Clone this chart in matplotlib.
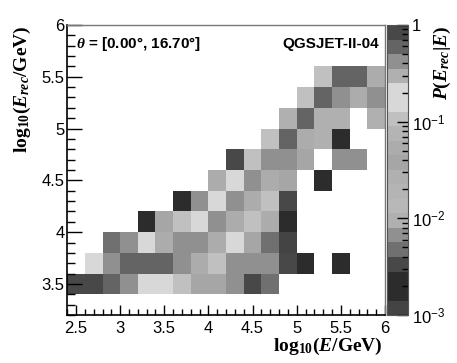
import numpy as np
import matplotlib
matplotlib.use("Agg")
import matplotlib.pyplot as plt
from matplotlib.colors import ListedColormap, LogNorm
from matplotlib.ticker import FixedLocator, NullFormatter

plt.rcParams['font.family'] = ['Liberation Sans', 'DejaVu Sans']
plt.rcParams['mathtext.fontset'] = 'custom'
plt.rcParams['mathtext.rm'] = 'Liberation Serif:bold'
plt.rcParams['mathtext.it'] = 'Liberation Serif:italic:bold'
plt.rcParams['mathtext.bf'] = 'Liberation Serif:bold'
plt.rcParams['mathtext.sf'] = 'Liberation Sans'

# ---- data ----
x_edges = [2.4, 2.6, 2.8, 3.0, 3.2, 3.4, 3.6, 3.8, 4.0, 4.2, 4.4, 4.6, 4.8, 5.0,
           5.2, 5.4, 5.6, 5.8, 6.0]
y_edges = [3.4, 3.6, 3.8, 4.0, 4.2, 4.4, 4.6, 4.8, 5.0, 5.2, 5.4, 5.6]
n = np.nan
# rows: log10(E_rec) bins from 3.4 upward; columns: log10(E) bins from 2.4
prob = [
    [0.85, 0.78, 0.55, 0.0067, 0.15, 0.16, 0.10, 0.038, 0.036, 0.0067, 0.0034, 0.0048, n, n, n, n, n, n],
    [n, 0.20, 0.40, 0.60, 0.60, 0.58, 0.40, 0.055, 0.10, 0.0066, 0.0062, 0.0063, 0.0034, 0.0017, n, 0.0017, n, n],
    [n, n, 0.0050, 0.38, 0.16, 0.055, 0.40, 0.40, 0.055, 0.18, 0.036, 0.0047, 0.0012, n, n, n, n, n],
    [n, n, n, n, 0.0017, 0.038, 0.10, 0.20, 0.40, 0.055, 0.10, 0.055, 0.0017, n, n, n, n, n],
    [n, n, n, n, n, n, 0.0017, 0.37, 0.20, 0.40, 0.055, 0.10, 0.0034, n, n, n, n, n],
    [n, n, n, n, n, n, n, n, 0.055, 0.20, 0.40, 0.055, 0.038, n, 0.0017, n, n, n],
    [n, n, n, n, n, n, n, n, n, 0.0034, 0.10, 0.40, 0.0067, 0.038, n, 0.0067, 0.0068, n],
    [n, n, n, n, n, n, n, n, n, n, n, 0.10, 0.60, 0.055, 0.027, 0.0017, n, n],
    [n, n, n, n, n, n, n, n, n, n, n, n, 0.30, 0.60, 0.30, 0.027, n, 0.30],
    [n, n, n, n, n, n, n, n, n, n, n, n, n, 0.10, 0.60, 0.40, 0.055, 0.40],
    [n, n, n, n, n, n, n, n, n, n, n, n, n, n, 0.10, 0.60, 0.60, 0.055],
]
x_ticks = [2.5, 3.0, 3.5, 4.0, 4.5, 5.0, 5.5, 6.0]
x_ticklabels = ['2.5', '3', '3.5', '4', '4.5', '5', '5.5', '6']
y_ticks = [3.5, 4.0, 4.5, 5.0, 5.5, 6.0]
y_ticklabels = ['3.5', '4', '4.5', '5', '5.5', '6']
cb_ticks = [1e-3, 1e-2, 1e-1, 1.0]
cb_ticklabels = [r'$\mathsf{10^{-3}}$', r'$\mathsf{10^{-2}}$', r'$\mathsf{10^{-1}}$', '1']

# grayscale palette (20 bands, bottom -> top)
band_grays = [0x44, 0x2c, 0x2c, 0x48, 0x70, 0x90, 0xb0, 0xb8, 0xb4, 0xb0,
              0xa6, 0xac, 0xb4, 0xc0, 0xd8, 0xd8, 0xb0, 0x90, 0x64, 0x48]
cmap = ListedColormap([(g / 255, g / 255, g / 255) for g in band_grays])
norm = LogNorm(vmin=1e-3, vmax=1.0)

W, H = 457, 363
fig = plt.figure(figsize=(W / 100, H / 100), dpi=100)
ax = fig.add_axes([67.2 / W, 1 - 315 / H, (385 - 67.2) / W, 290 / H])
cax = fig.add_axes([386.7 / W, 1 - 315 / H, 21.3 / W, 290 / H])

Z = np.ma.masked_invalid(np.array(prob, dtype=float))
mesh = ax.pcolormesh(x_edges, y_edges, Z, cmap=cmap, norm=norm,
                     edgecolors='none', antialiased=False)
ax.set_xlim(2.4, 6.0)
ax.set_ylim(3.2, 6.0)

ax.xaxis.set_major_locator(FixedLocator(x_ticks))
ax.set_xticklabels(x_ticklabels)
ax.yaxis.set_major_locator(FixedLocator(y_ticks))
ax.set_yticklabels(y_ticklabels)
ax.xaxis.set_minor_locator(FixedLocator(np.arange(2.4, 6.001, 0.1)))
ax.yaxis.set_minor_locator(FixedLocator(np.arange(3.2, 6.001, 0.1)))
ax.tick_params(axis='x', which='major', direction='in', length=7, width=1,
               labelsize=12, pad=4, top=False)
ax.tick_params(axis='x', which='minor', direction='in', length=4, width=1, top=False)
ax.tick_params(axis='y', which='major', direction='in', length=11, width=1,
               labelsize=12, pad=2, right=False)
ax.tick_params(axis='y', which='minor', direction='in', length=6, width=1, right=False)
for s in ['left', 'bottom']:
    ax.spines[s].set_linewidth(1.2)
    ax.spines[s].set_color('black')
for s in ['top', 'right']:
    ax.spines[s].set_linewidth(1.0)
    ax.spines[s].set_color('#777777')

ax.text(0.028, 0.934, r'$\theta$ = [0.00°, 16.70°]', transform=ax.transAxes,
        fontsize=11, fontweight='bold', ha='left', va='center')
ax.text(0.98, 0.934, 'QGSJET-II-04', transform=ax.transAxes,
        fontsize=11, fontweight='bold', ha='right', va='center')

cb = fig.colorbar(mesh, cax=cax)
cb.outline.set_linewidth(0.8)
cb.outline.set_edgecolor('#555555')
cax.yaxis.set_major_locator(FixedLocator(cb_ticks))
cax.set_yticklabels(cb_ticklabels)
minors = [m * 10.0 ** e for e in (-3, -2, -1) for m in range(2, 10)]
cax.yaxis.set_minor_locator(FixedLocator(minors))
cax.yaxis.set_minor_formatter(NullFormatter())
cax.tick_params(axis='y', which='major', direction='in', length=8, width=1,
                labelsize=12, pad=3, right=True, left=False)
cax.tick_params(axis='y', which='minor', direction='in', length=4, width=1,
                right=True, left=False)

fig.text(22 / W, 1 - 25 / H, r'$\mathrm{log}_{10}(E_{rec}/\mathrm{GeV})$',
         rotation=90, ha='center', va='top', fontsize=14)
fig.text(383 / W, 1 - 336 / H, r'$\mathrm{log}_{10}(E/\mathrm{GeV})$',
         ha='right', va='top', fontsize=14)
fig.text(442 / W, 1 - 26 / H, r'$P(E_{rec}|E)$',
         rotation=90, ha='center', va='top', fontsize=14)

fig.savefig('out.png', dpi=100)
